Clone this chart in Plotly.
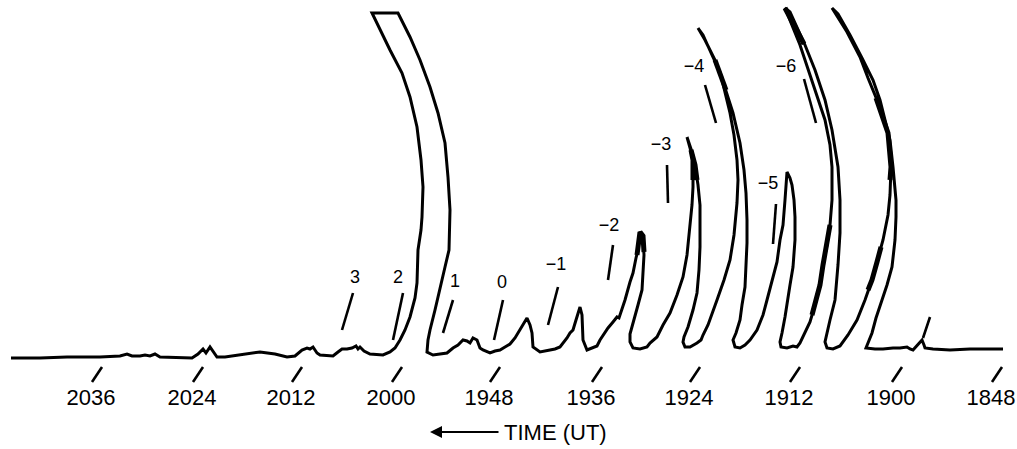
import plotly.graph_objects as go

# ---- data ----
# horizontal position (chart units) and amplitude of the traced record
curve_x = [11,40,67,100,120,127,132,140,145,150,155,160,192,198,203,206,210,214,217,225,233,245,260,275,287,295,302,307,310,313,317,320,333,338,342,347,352,356,358,360,364,370,383,390,
           395,400,405,410,415,417,418,421,422,423,421,417,410,402,390,372,
           398,
           410,420,430,438,445,448,450,449,445,440,435,430,428,427,433,
           440,447,453,458,463,467,470,473,477,480,483,490,495,500,505,510,515,518,523,527,530,532,533,540,550,555,560,564,567,570,573,576,580,582,583,587,593,597,600,604,608,613,617,619,621,625,630,633,636,638,640,
           643,644,643,642,638,635,630,630,633,640,647,650,654,657,
           663,670,677,683,687,690,692,693,693,690,687,
           692,695,698,700,700,700,699,697,693,688,684,683,685,690,697,701,703,
           708,717,724,730,734,737,738,737,734,730,722,715,705,698,
           703,712,720,725,733,740,744,746,747,747,746,745,742,740,736,733,735,740,745,
           750,757,763,767,772,777,780,783,785,787,
           790,792,794,795,795,793,790,788,785,782,780,781,787,793,797,800,
           805,810,815,820,823,827,830,832,832,830,825,818,810,800,792,785,
           790,797,805,815,825,832,838,840,840,838,835,830,827,825,827,833,840,
           848,857,865,872,877,883,888,890,891,888,882,877,868,860,847,832,
           838,850,862,873,880,885,890,893,896,896,895,892,887,882,876,872,868,866,
           875,883,893,900,907,910,913,917,920,922,924,925,933,950,970,990,1003]
curve_y = [2,2,3,3,4,6,4,4,5,4,6,3,2,6,11,7,13,7,3,3,4,6,8,6,3,4,10,12,11,13,7,5,4,8,11,11,12,14,11,13,9,6,5,8,
           12,20,30,43,62,77,110,130,143,173,200,233,263,287,310,347,
           347,
           323,300,273,247,217,183,150,110,93,70,50,30,20,8,5,
           6,7,12,15,20,19,17,22,20,12,10,7,9,10,13,16,22,27,35,42,35,27,13,8,10,11,13,18,22,27,30,40,53,45,20,10,12,14,20,26,32,38,43,42,48,60,78,87,102,110,128,
           124,105,85,70,55,43,26,18,12,11,13,17,20,23,
           35,47,65,83,105,133,155,173,200,212,223,
           208,195,175,155,130,113,90,67,50,33,23,18,13,13,17,20,25,
           35,60,80,100,125,157,180,200,225,247,280,300,320,332,
           325,305,288,272,247,217,190,167,140,117,95,73,55,40,27,20,13,12,15,
           20,30,45,60,80,98,120,135,160,188,
           182,175,160,143,120,93,75,60,43,27,18,13,12,14,13,17,
           27,38,55,75,95,115,135,160,193,215,240,260,285,315,335,352,
           348,333,315,290,260,230,193,160,127,95,60,40,27,18,12,11,14,
           25,40,60,80,98,120,145,165,193,227,245,260,282,303,328,352,
           346,325,302,280,260,240,220,193,160,143,120,93,75,60,42,27,18,12,
           11,11,12,12,13,11,10,14,18,20,15,12,11,10,11,11,11]

# stretches where the pen trace is doubled / heavier
heavy_x = [637,640,643,644, None, 693,693,691,695,697, None, 715,722,726, None,
           785,797,804, None, 812,815,820,823,827,830, None,
           876,882,888,891,890, None, 868,872,877,881]
heavy_y = [105,128,124,108, None, 180,200,210,195,180, None, 300,280,270, None,
           352,330,316, None, 45,55,75,95,115,135, None,
           262,245,227,193,180, None, 70,80,98,113]

tick_years = ["2036", "2024", "2012", "2000", "1948", "1936", "1924", "1912", "1900", "1848"]
tick_pos = [92, 193, 292, 392, 490, 592, 690, 790, 892, 992]

cycle_names = ["3", "2", "1", "0", "\u22121", "\u22122", "\u22123", "\u22124", "\u22125", "\u22126"]
# leader anchor on the record for each numbered cycle
cycle_x = [342, 393, 443, 494, 548, 608, 668, 716, 773, 816]
cycle_y = [30, 20, 27, 20, 35, 80, 157, 237, 116, 237]

# ---- layout helpers (offsets of label and leader top from each anchor) ----
lead_dx = [11, 10, 10, 9, 10, 5, -1, -11, 3, -12]
lead_dy = [37, 47, 33, 40, 38, 35, 38, 38, 40, 44]
lab_dx = [13, 5, 12, 8, 8, 1, -7, -22, -5, -30]
lab_dy = [52, 62, 51, 57, 60, 54, 58, 56, 60, 56]

FONT = "Liberation Sans, Arial, sans-serif"
fig = go.Figure()

fig.add_trace(go.Scatter(x=curve_x, y=curve_y, mode="lines",
                         line=dict(color="black", width=3), hoverinfo="skip"))
fig.add_trace(go.Scatter(x=heavy_x, y=heavy_y, mode="lines",
                         line=dict(color="black", width=5), hoverinfo="skip"))

# leaders
lx, ly = [], []
for x0, y0, dx, dy in zip(cycle_x, cycle_y, lead_dx, lead_dy):
    lx += [x0, x0 + dx, None]
    ly += [y0, y0 + dy, None]
lx += [923, 930, None]
ly += [22, 43, None]
fig.add_trace(go.Scatter(x=lx, y=ly, mode="lines",
                         line=dict(color="black", width=2.6), hoverinfo="skip"))

fig.add_trace(go.Scatter(x=[x + d for x, d in zip(cycle_x, lab_dx)],
                         y=[y + d for y, d in zip(cycle_y, lab_dy)],
                         mode="text", text=cycle_names,
                         textfont=dict(family=FONT, size=18, color="black"),
                         hoverinfo="skip"))

# slanted tick marks
tx, ty = [], []
for p in tick_pos:
    tx += [p, p + 10, None]
    ty += [-22, -7, None]
fig.add_trace(go.Scatter(x=tx, y=ty, mode="lines",
                         line=dict(color="black", width=2.6), hoverinfo="skip"))
fig.add_trace(go.Scatter(x=[p - 1 for p in tick_pos], y=[-39] * len(tick_pos),
                         mode="text", text=tick_years,
                         textfont=dict(family=FONT, size=22, color="black"),
                         hoverinfo="skip"))

fig.add_annotation(x=430, y=-72, ax=500, ay=-72, axref="x", ayref="y",
                   xref="x", yref="y", text="", showarrow=True,
                   arrowhead=2, arrowsize=1.2, arrowwidth=2, arrowcolor="black")
fig.add_annotation(x=502, y=-72, xref="x", yref="y", text="TIME (UT)",
                   showarrow=False, xanchor="left", yanchor="middle",
                   font=dict(family=FONT, size=22, color="black"))

fig.update_layout(width=1017, height=449, margin=dict(l=0, r=0, t=0, b=0),
                  paper_bgcolor="white", plot_bgcolor="white", showlegend=False,
                  xaxis=dict(range=[0, 1017], visible=False, fixedrange=True),
                  yaxis=dict(range=[-89, 360], visible=False, fixedrange=True))

fig.write_html("out.html", config={"displayModeBar": False},
               post_script="document.body.style.margin='0';document.body.style.overflow='hidden';")
